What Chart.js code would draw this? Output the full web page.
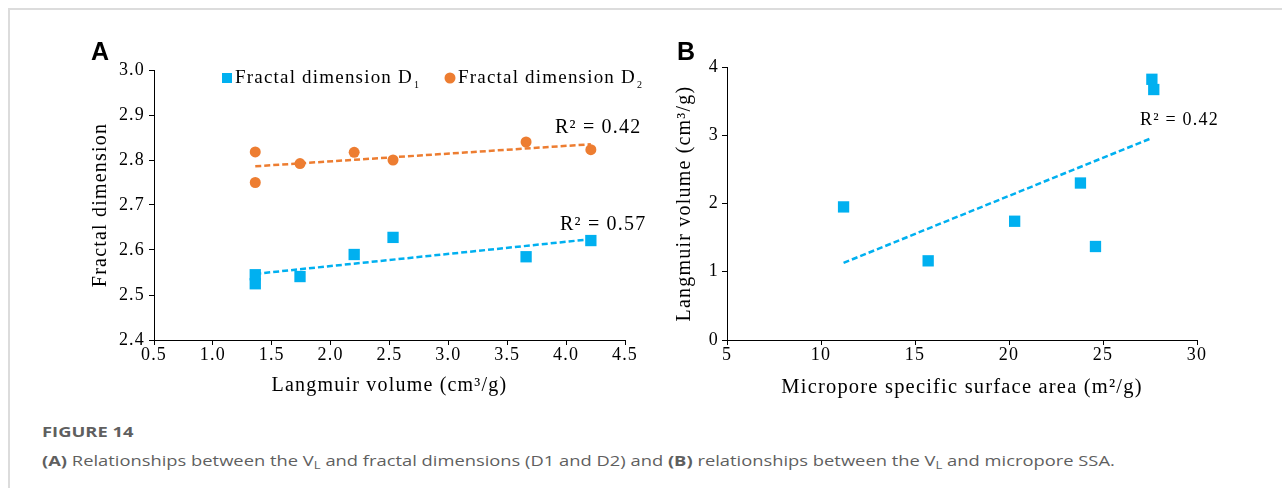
<!DOCTYPE html>
<html>
<head>
<meta charset="utf-8">
<script src="https://cdn.jsdelivr.net/npm/chart.js@4.4.1/dist/chart.umd.min.js"></script>
<style>
  html, body { margin:0; padding:0; background:#fff; }
  body { width:1282px; height:488px; position:relative; overflow:hidden; }
  .frame { position:absolute; left:8px; top:8px; width:1300px; height:520px; border-top:2px solid #dcdcdc; border-left:2px solid #dcdcdc; }
  .wrap { position:absolute; top:20px; width:600px; height:385px; }
  .letter { position:absolute; font:bold 25px "Liberation Sans", Arial, sans-serif; color:#000; }
  .cap { position:absolute; left:42px; font-family:"Open Sans", sans-serif; font-size:14px; color:#5f5f5f; white-space:nowrap; transform:scaleX(1.31); transform-origin:0 50%; }
  .cap sub { font-size:10px; vertical-align:-3px; }
</style>
</head>
<body>
<div class="frame"></div>
<div class="wrap" style="left:60px"><canvas id="chartA" width="600" height="385"></canvas></div>
<div class="wrap" style="left:640px"><canvas id="chartB" width="600" height="385"></canvas></div>
<div class="letter" style="left:91px;top:37px">A</div>
<div class="letter" style="left:677px;top:37px">B</div>
<div class="cap" style="top:422px;font-weight:bold">FIGURE 14</div>
<div class="cap" style="top:451px"><b>(A)</b> Relationships between the V<sub>L</sub> and fractal dimensions (D1 and D2) and <b>(B)</b> relationships between the V<sub>L</sub> and micropore SSA.</div>
<script>
// ---------- Panel A data ----------
const langmuirA = [1.36, 1.36, 1.74, 2.20, 2.53, 3.66, 4.21];
const fractalD1 = [2.525, 2.545, 2.541, 2.590, 2.628, 2.585, 2.621];
const fractalD2 = [2.818, 2.750, 2.792, 2.817, 2.800, 2.840, 2.823];
const trendD1X = [1.36, 4.21];
const trendD1Y = [2.547, 2.624];
const trendD2X = [1.36, 4.21];
const trendD2Y = [2.786, 2.835];
const xTicksA = [0.5, 1.0, 1.5, 2.0, 2.5, 3.0, 3.5, 4.0, 4.5];
const yTicksA = [2.4, 2.5, 2.6, 2.7, 2.8, 2.9, 3.0];
const r2A = ["R² = 0.57", "R² = 0.42"];
const legendA = ["Fractal dimension D", "Fractal dimension D"];
const legendSubA = ["1", "2"];

// ---------- Panel B data ----------
const microporeSSA = [11.2, 15.7, 20.3, 23.8, 24.6, 27.6, 27.7];
const langmuirB = [1.95, 1.16, 1.74, 2.30, 1.37, 3.82, 3.67];
const trendBX = [11.2, 27.6];
const trendBY = [1.13, 2.96];
const xTicksB = [5, 10, 15, 20, 25, 30];
const yTicksB = [0, 1, 2, 3, 4];
const r2B = ["R² = 0.42"];

const BLUE = '#00B0F0';
const ORANGE = '#ED7D31';
const SERIF = '"Liberation Serif", "Times New Roman", serif';
const LS = '1.2px';

const pts = (xs, ys) => xs.map((x, i) => ({x, y: ys[i]}));

const textPlugin = {
  id: 'extraText',
  beforeLayout(chart) { chart.ctx.letterSpacing = LS; },
  beforeDraw(chart) { chart.ctx.letterSpacing = LS; },
  afterDraw(chart, args, opts) {
    const ctx = chart.ctx;
    ctx.save();
    ctx.letterSpacing = LS;
    (opts.items || []).forEach(it => {
      if (it.marker === 'rect') {
        ctx.fillStyle = it.markerColor;
        ctx.fillRect(it.mx - 5, it.my - 5, 10, 10);
      } else if (it.marker === 'circle') {
        ctx.fillStyle = it.markerColor;
        ctx.beginPath(); ctx.arc(it.mx, it.my, 5.5, 0, Math.PI * 2); ctx.fill();
      }
      ctx.fillStyle = '#000';
      ctx.textBaseline = 'middle';
      ctx.textAlign = 'left';
      ctx.font = it.size + 'px ' + SERIF;
      ctx.fillText(it.text, it.x, it.y);
      if (it.sub) {
        const w = ctx.measureText(it.text).width;
        ctx.letterSpacing = '0px';
        ctx.font = Math.round(it.size * 0.5) + 'px ' + SERIF;
        ctx.fillText(it.sub, it.x + w + 1, it.y + 7);
        ctx.letterSpacing = LS;
      }
    });
    ctx.restore();
  }
};

function axisCommon(min, max, ticksArr, title, fitProp, fitVal, titlePad, decimals, tickPad, titleSize) {
  return {
    type: 'linear', min, max,
    afterFit(scale) { scale[fitProp] = fitVal; },
    afterBuildTicks(scale) { scale.ticks = ticksArr.map(v => ({value: v})); },
    grid: { display: true, drawOnChartArea: false, drawTicks: true, tickLength: 5, color: '#000', lineWidth: 1 },
    border: { display: true, color: '#000', width: 1 },
    ticks: { color: '#000', padding: tickPad, font: { family: SERIF, size: 18, lineHeight: 1 },
             callback: v => Number(v).toFixed(decimals), autoSkip: false, maxRotation: 0 },
    title: { display: true, text: title, color: '#000', font: { family: SERIF, size: titleSize }, padding: titlePad }
  };
}

new Chart(document.getElementById('chartA'), {
  type: 'scatter',
  data: {
    datasets: [
      { label: 'D1', data: pts(langmuirA, fractalD1), pointStyle: 'rect', pointRadius: 8, backgroundColor: BLUE, borderWidth: 0 },
      { label: 'D2', data: pts(langmuirA, fractalD2), pointStyle: 'circle', pointRadius: 5.5, backgroundColor: ORANGE, borderWidth: 0 },
      { label: 'T1', data: pts(trendD1X, trendD1Y), showLine: true, pointRadius: 0, borderColor: BLUE, borderWidth: 2.5, borderDash: [6, 3] },
      { label: 'T2', data: pts(trendD2X, trendD2Y), showLine: true, pointRadius: 0, borderColor: ORANGE, borderWidth: 2.5, borderDash: [6, 3] }
    ]
  },
  options: {
    responsive: false, animation: false, devicePixelRatio: 1,
    layout: { padding: { left: 0, right: 35, top: 50, bottom: 0 } },
    plugins: {
      legend: { display: false }, tooltip: { enabled: false },
      extraText: { items: [
        { marker: 'rect', markerColor: BLUE, mx: 167, my: 58, text: legendA[0], sub: legendSubA[0], x: 175, y: 58, size: 19 },
        { marker: 'circle', markerColor: ORANGE, mx: 390, my: 58, text: legendA[1], sub: legendSubA[1], x: 398, y: 58, size: 19 },
        { text: r2A[1], x: 495, y: 108, size: 20 },
        { text: r2A[0], x: 500, y: 205, size: 20 }
      ] }
    },
    scales: {
      x: axisCommon(0.5, 4.5, xTicksA, 'Langmuir volume (cm³/g)', 'height', 65, { top: 0, bottom: 7 }, 1, 1, 20),
      y: axisCommon(2.4, 3.0, yTicksA, 'Fractal dimension', 'width', 94, { top: 29, bottom: 0 }, 1, 4, 20)
    }
  },
  plugins: [textPlugin]
});

new Chart(document.getElementById('chartB'), {
  type: 'scatter',
  data: {
    datasets: [
      { label: 'VL', data: pts(microporeSSA, langmuirB), pointStyle: 'rect', pointRadius: 8, backgroundColor: BLUE, borderWidth: 0 },
      { label: 'T', data: pts(trendBX, trendBY), showLine: true, pointRadius: 0, borderColor: BLUE, borderWidth: 2.5, borderDash: [6, 3] }
    ]
  },
  options: {
    responsive: false, animation: false, devicePixelRatio: 1,
    layout: { padding: { left: 0, right: 43, top: 47, bottom: 0 } },
    plugins: {
      legend: { display: false }, tooltip: { enabled: false },
      extraText: { items: [
        { text: r2B[0], x: 500, y: 100, size: 18 }
      ] }
    },
    scales: {
      x: axisCommon(5, 30, xTicksB, 'Micropore specific surface area (m²/g)', 'height', 65, { top: 0, bottom: 5 }, 0, 1, 20.5),
      y: axisCommon(0, 4, yTicksB, 'Langmuir volume (cm³/g)', 'width', 87, { top: 33, bottom: 0 }, 0, 3, 20)
    }
  },
  plugins: [textPlugin]
});
</script>
</body>
</html>
